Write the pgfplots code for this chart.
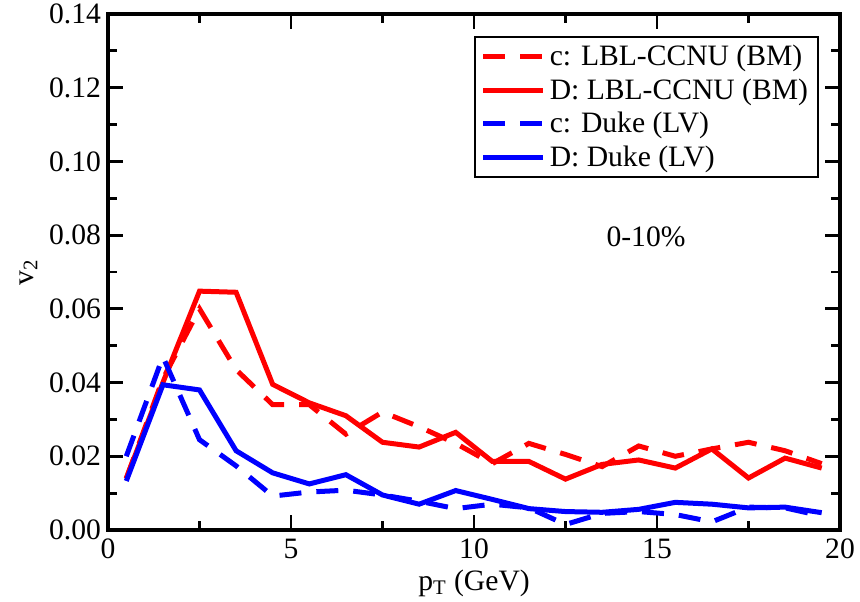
\documentclass[border=0pt]{standalone}
\usepackage{fontspec}
\setmainfont{Liberation Serif}
\usepackage{pgfplots}
\pgfplotsset{compat=1.18}
\usetikzlibrary{calc}

\begin{document}
\begin{tikzpicture}
\begin{axis}[
  scale only axis,
  width=366pt, height=258pt,
  xmin=0, xmax=20, ymin=0, ymax=0.14,
  xtick={0,5,10,15,20}, minor x tick num=1,
  ytick={0,0.02,0.04,0.06,0.08,0.10,0.12,0.14}, minor y tick num=1,
  tick align=inside,
  major tick length=7.5pt, minor tick length=4.5pt,
  every tick/.style={black, line width=1.4pt},
  axis line style={line width=1.6pt},
  font=\fontsize{14.8}{17}\selectfont,
  /pgf/number format/assume math mode=true,
  yticklabel style={/pgf/number format/.cd, fixed, fixed zerofill, precision=2},
  xticklabel style={yshift=-1pt},
  xlabel={p\textsubscript{T} (GeV)},
  ylabel={v\textsubscript{2}},
  xlabel style={yshift=1.5pt},
  ylabel style={yshift=-1pt},
  legend style={at={(1,1)}, anchor=north east, xshift=-10.5pt, yshift=-11pt,
    draw=black, line width=1pt, font=\fontsize{14.8}{17}\selectfont,
    row sep=1pt, inner xsep=3pt, inner ysep=2pt},
  legend cell align=left,
  legend image code/.code={\draw[#1] (0pt,0pt) -- (30pt,0pt);},
]
\addplot[red, line width=2.5pt, dash pattern=on 11pt off 7.5pt] coordinates {
  (0.5,0.014)(1.5,0.041)(2.5,0.060)(3.5,0.0435)(4.5,0.034)(5.5,0.034)
  (6.5,0.026)(7.5,0.032)(8.5,0.028)(9.5,0.0235)(10.5,0.018)(11.5,0.0235)
  (12.5,0.0205)(13.5,0.0172)(14.5,0.0228)(15.5,0.020)(16.5,0.022)
  (17.5,0.0238)(18.5,0.0215)(19.5,0.018)
};
\addplot[red, line width=2.5pt] coordinates {
  (0.5,0.014)(1.5,0.040)(2.5,0.0648)(3.5,0.0645)(4.5,0.0395)(5.5,0.0345)
  (6.5,0.031)(7.5,0.0238)(8.5,0.0225)(9.5,0.0265)(10.5,0.0186)(11.5,0.0186)
  (12.5,0.0138)(13.5,0.0178)(14.5,0.019)(15.5,0.0168)(16.5,0.022)
  (17.5,0.0141)(18.5,0.0195)(19.5,0.0168)
};
\addplot[blue, line width=2.5pt, dash pattern=on 11pt off 7.5pt] coordinates {
  (0.5,0.020)(1.5,0.047)(2.5,0.0245)(3.5,0.0174)(4.5,0.0092)(5.5,0.0103)
  (6.5,0.0108)(7.5,0.0095)(8.5,0.0078)(9.5,0.0058)(10.5,0.0070)(11.5,0.0060)
  (12.5,0.0015)(13.5,0.0045)(14.5,0.0050)(15.5,0.0042)(16.5,0.0022)
  (17.5,0.0062)(18.5,0.0060)(19.5,0.0038)
};
\addplot[blue, line width=2.5pt] coordinates {
  (0.5,0.0133)(1.5,0.0394)(2.5,0.038)(3.5,0.0215)(4.5,0.0155)(5.5,0.0125)
  (6.5,0.015)(7.5,0.0095)(8.5,0.0070)(9.5,0.0107)(10.5,0.0083)(11.5,0.0058)
  (12.5,0.0050)(13.5,0.0048)(14.5,0.0056)(15.5,0.0075)(16.5,0.0070)
  (17.5,0.0060)(18.5,0.0062)(19.5,0.0047)
};
\legend{c: LBL-CCNU (BM), D: LBL-CCNU (BM), c: Duke (LV), D: Duke (LV)}
\node[font=\fontsize{14.8}{17}\selectfont] at (axis cs:14.7,0.0795) {0-10\%};
\coordinate (bl) at (rel axis cs:0,0);
\coordinate (tr) at (rel axis cs:1,1);
\end{axis}
\pgfresetboundingbox
\path ($(bl)+(-54pt,-36pt)$) rectangle ($(tr)+(10pt,7pt)$);
\end{tikzpicture}
\end{document}
